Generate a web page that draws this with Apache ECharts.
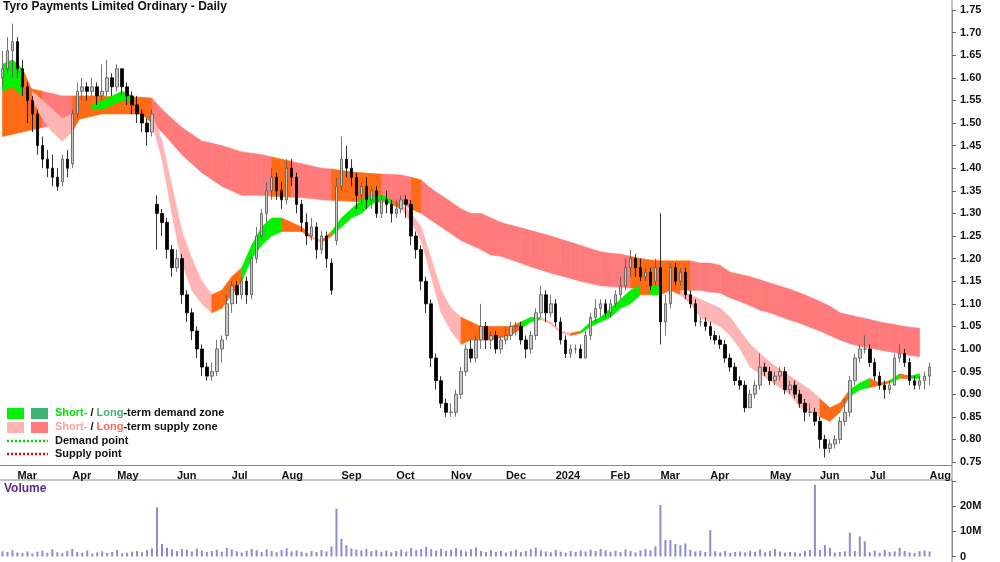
<!DOCTYPE html>
<html><head><meta charset="utf-8">
<script src="https://cdn.jsdelivr.net/npm/echarts@6/dist/echarts.min.js"></script>
<style>html,body{margin:0;padding:0;background:#fff}#c{width:1000px;height:562px}</style>
</head><body><div id="c"></div>
<script>
// ---- DATA ----
// candles: [open, close, low, high]
const candles = [
[1.60,1.62,1.58,1.66],[1.62,1.66,1.61,1.69],[1.66,1.68,1.60,1.72],[1.68,1.62,1.60,1.69],[1.62,1.58,1.56,1.64],
[1.58,1.55,1.50,1.59],[1.55,1.52,1.48,1.56],[1.52,1.45,1.43,1.53],[1.45,1.42,1.40,1.47],[1.42,1.40,1.38,1.44],
[1.40,1.38,1.36,1.43],[1.38,1.36,1.35,1.40],[1.37,1.42,1.36,1.43],[1.42,1.40,1.38,1.44],[1.41,1.52,1.40,1.53],
[1.52,1.57,1.51,1.59],[1.57,1.58,1.55,1.60],[1.58,1.57,1.55,1.59],[1.57,1.58,1.56,1.60],[1.58,1.56,1.54,1.59],
[1.56,1.57,1.55,1.63],[1.57,1.60,1.56,1.64],[1.60,1.58,1.56,1.61],[1.58,1.62,1.57,1.63],[1.62,1.58,1.56,1.62],
[1.58,1.56,1.54,1.59],[1.56,1.54,1.52,1.57],[1.54,1.52,1.50,1.56],[1.52,1.50,1.48,1.53],[1.50,1.48,1.45,1.51],
[1.48,1.52,1.47,1.53],[1.32,1.30,1.22,1.34],[1.30,1.28,1.25,1.31],[1.28,1.22,1.20,1.29],[1.22,1.18,1.16,1.23],
[1.18,1.20,1.17,1.22],[1.20,1.12,1.10,1.21],[1.12,1.08,1.06,1.13],[1.08,1.04,1.02,1.09],[1.04,1.00,0.98,1.05],
[1.00,0.96,0.94,1.01],[0.96,0.94,0.93,0.97],[0.94,0.95,0.93,0.97],[0.95,1.00,0.94,1.02],[1.00,1.02,0.97,1.03],
[1.03,1.10,1.02,1.12],[1.10,1.14,1.08,1.15],[1.14,1.12,1.10,1.15],[1.12,1.15,1.11,1.16],[1.15,1.12,1.10,1.16],
[1.12,1.20,1.11,1.21],[1.20,1.25,1.19,1.27],[1.25,1.30,1.24,1.31],[1.30,1.35,1.28,1.37],[1.35,1.38,1.33,1.40],
[1.38,1.35,1.33,1.39],[1.35,1.33,1.31,1.37],[1.33,1.40,1.32,1.42],[1.40,1.38,1.36,1.42],[1.38,1.32,1.30,1.39],
[1.32,1.28,1.26,1.33],[1.28,1.25,1.23,1.30],[1.25,1.27,1.24,1.29],[1.27,1.22,1.20,1.28],[1.22,1.25,1.21,1.26],
[1.25,1.20,1.18,1.26],[1.19,1.13,1.12,1.20],[1.24,1.36,1.23,1.38],[1.36,1.42,1.35,1.47],[1.42,1.40,1.38,1.45],
[1.40,1.38,1.36,1.42],[1.38,1.34,1.31,1.39],[1.34,1.36,1.32,1.37],[1.36,1.33,1.31,1.38],[1.33,1.35,1.31,1.36],
[1.35,1.30,1.29,1.36],[1.30,1.33,1.29,1.34],[1.33,1.32,1.30,1.35],[1.32,1.30,1.28,1.33],[1.30,1.31,1.29,1.33],
[1.31,1.33,1.30,1.34],[1.33,1.32,1.29,1.34],[1.32,1.25,1.23,1.33],[1.25,1.22,1.20,1.26],[1.22,1.15,1.13,1.23],
[1.15,1.10,1.08,1.16],[1.10,0.98,0.96,1.11],[0.98,0.93,0.91,0.99],[0.93,0.88,0.87,0.94],[0.88,0.86,0.85,0.89],
[0.86,0.86,0.85,0.88],[0.86,0.90,0.85,0.91],[0.90,0.95,0.89,0.96],[0.95,1.00,0.94,1.01],[1.00,0.98,0.97,1.02],
[0.98,1.02,0.97,1.03],[1.02,1.05,1.00,1.10],[1.05,1.02,1.00,1.06],[1.02,1.03,1.00,1.04],[1.03,1.00,0.99,1.04],
[1.00,1.02,0.99,1.03],[1.02,1.03,1.01,1.05],[1.03,1.05,1.02,1.06],[1.05,1.05,1.03,1.06],[1.05,1.02,1.01,1.06],
[1.02,1.00,0.98,1.03],[1.00,1.03,0.99,1.04],[1.03,1.08,1.02,1.09],[1.08,1.12,1.07,1.14],[1.12,1.08,1.06,1.13],
[1.08,1.10,1.07,1.12],[1.10,1.06,1.05,1.11],[1.06,1.02,1.01,1.07],[1.02,0.99,0.98,1.03],[0.99,1.00,0.98,1.01],
[1.00,1.00,0.99,1.01],[1.00,0.98,0.98,1.01],[0.98,1.03,0.98,1.04],[1.03,1.07,1.02,1.08],[1.07,1.09,1.06,1.11],
[1.09,1.10,1.07,1.11],[1.10,1.08,1.07,1.11],[1.08,1.10,1.07,1.11],[1.10,1.12,1.09,1.13],[1.12,1.14,1.11,1.16],
[1.14,1.18,1.13,1.20],[1.18,1.20,1.16,1.22],[1.20,1.18,1.16,1.21],[1.18,1.16,1.15,1.20],[1.16,1.17,1.15,1.18],
[1.17,1.14,1.13,1.18],[1.15,1.18,1.14,1.20],[1.18,1.06,1.01,1.30],[1.06,1.10,1.03,1.12],[1.10,1.18,1.09,1.19],
[1.18,1.15,1.14,1.19],[1.15,1.17,1.14,1.18],[1.17,1.12,1.11,1.18],[1.12,1.10,1.09,1.13],[1.10,1.06,1.05,1.11],
[1.06,1.06,1.05,1.07],[1.06,1.05,1.04,1.07],[1.05,1.03,1.02,1.06],[1.03,1.02,1.01,1.04],[1.02,1.01,1.00,1.03],
[1.01,0.98,0.97,1.02],[0.98,0.96,0.95,0.99],[0.96,0.93,0.92,0.97],[0.93,0.92,0.91,0.94],[0.92,0.87,0.86,0.93],
[0.87,0.90,0.87,0.91],[0.90,0.92,0.89,0.93],[0.92,0.96,0.91,0.99],[0.96,0.95,0.94,0.97],[0.95,0.93,0.92,0.96],
[0.93,0.94,0.92,0.95],[0.94,0.95,0.93,0.96],[0.95,0.91,0.90,0.96],[0.91,0.92,0.90,0.93],[0.92,0.90,0.89,0.93],
[0.90,0.88,0.87,0.91],[0.88,0.86,0.84,0.89],[0.86,0.86,0.85,0.88],[0.86,0.84,0.83,0.87],[0.84,0.80,0.78,0.85],
[0.80,0.78,0.76,0.81],[0.78,0.79,0.77,0.80],[0.79,0.80,0.78,0.81],[0.80,0.84,0.79,0.85],[0.84,0.86,0.83,0.89],
[0.86,0.93,0.85,0.94],[0.93,0.98,0.92,0.99],[0.98,1.00,0.97,1.01],[1.00,1.00,0.99,1.03],[1.00,0.97,0.96,1.01],
[0.97,0.94,0.93,0.98],[0.94,0.92,0.91,0.95],[0.92,0.91,0.89,0.93],[0.91,0.92,0.90,0.93],[0.92,0.98,0.92,0.99],
[0.98,0.99,0.97,1.01],[0.99,0.97,0.96,1.00],[0.97,0.93,0.92,0.98],[0.93,0.92,0.91,0.94],[0.92,0.93,0.91,0.94],
[0.93,0.94,0.91,0.95],[0.94,0.96,0.92,0.97]
];
// volume in millions
const volume = [
2.1,1.8,2.5,1.6,1.4,2.0,1.2,1.9,2.3,1.5,2.8,1.7,1.3,2.2,3.0,1.8,1.5,2.4,1.2,1.6,
2.0,1.4,1.8,2.6,1.3,1.5,1.9,2.2,1.7,2.5,3.2,19.5,5.0,3.5,2.8,2.2,3.0,2.6,2.0,3.1,
2.4,1.8,2.2,2.7,1.9,3.4,2.8,2.1,1.6,2.3,3.0,2.5,1.8,2.9,2.2,1.7,2.6,3.3,2.0,2.4,
1.9,1.5,2.2,1.8,2.6,2.0,4.0,19.0,7.0,4.5,3.2,2.8,2.4,3.0,2.1,2.6,1.9,2.3,1.7,2.2,
2.8,2.0,3.4,2.6,3.0,3.8,2.9,2.4,3.1,2.2,2.7,3.3,2.5,2.0,2.9,3.6,2.2,1.8,2.5,1.9,
2.3,1.6,2.1,2.7,1.8,2.2,2.9,3.5,2.4,2.0,1.7,2.6,1.9,1.5,2.2,1.8,2.4,2.0,2.7,2.2,
3.0,2.5,1.9,2.3,1.8,2.8,2.2,1.6,2.4,3.0,2.5,4.0,20.5,6.5,6.5,5.0,4.5,5.2,2.6,2.0,
2.3,1.8,10.5,2.1,1.6,2.2,1.4,1.8,2.0,1.6,2.3,1.9,2.8,1.7,2.2,3.0,2.0,1.5,1.8,1.6,
1.3,2.2,2.6,28.5,2.6,4.6,3.5,1.5,1.8,2.0,9.5,2.2,8.0,6.0,1.7,2.3,1.5,2.6,1.8,2.0,
3.4,2.2,1.6,1.3,2.1,2.4,2.0
];
const categoryCount = 191;
const monthNames = ['Mar','Apr','May','Jun','Jul','Aug','Sep','Oct','Nov','Dec','2024','Feb','Mar','Apr','May','Jun','Jul','Aug'];
const monthIdx   = [3,14,23,35,46,56,68,79,90,101,111,122,132,142,154,164,174,186];
// bands sampled every 2 candles: [hi, lo]
const longHi = [1.58,1.58,1.58,1.575,1.57,1.565,1.56,1.56,1.56,1.56,1.56,1.558,1.557,1.557,1.557,1.555,1.53,1.51,1.49,1.475,1.46,1.455,1.45,1.443,1.436,1.433,1.43,1.425,1.42,1.415,1.41,1.405,1.40,1.398,1.395,1.392,1.39,1.388,1.387,1.386,1.385,1.38,1.374,1.355,1.34,1.325,1.31,1.30,1.30,1.29,1.28,1.274,1.268,1.262,1.256,1.25,1.243,1.236,1.229,1.222,1.215,1.212,1.21,1.205,1.20,1.197,1.195,1.195,1.195,1.195,1.19,1.19,1.185,1.17,1.165,1.16,1.153,1.146,1.139,1.132,1.124,1.115,1.105,1.095,1.08,1.075,1.07,1.065,1.06,1.056,1.052,1.048,1.046];
const longLo = [1.47,1.475,1.48,1.485,1.49,1.495,1.50,1.505,1.51,1.515,1.52,1.52,1.52,1.52,1.52,1.50,1.48,1.455,1.43,1.41,1.39,1.375,1.36,1.35,1.34,1.34,1.34,1.338,1.337,1.336,1.335,1.333,1.33,1.329,1.328,1.327,1.326,1.325,1.325,1.324,1.323,1.31,1.30,1.285,1.27,1.255,1.24,1.23,1.22,1.208,1.205,1.198,1.19,1.182,1.175,1.168,1.162,1.156,1.15,1.145,1.14,1.138,1.137,1.135,1.133,1.132,1.131,1.13,1.13,1.13,1.13,1.126,1.124,1.113,1.105,1.096,1.086,1.08,1.072,1.064,1.057,1.048,1.04,1.03,1.02,1.012,1.006,1.002,0.998,0.994,0.99,0.986,0.983];
const longType = 'OOOORRROOOOOOOORRRRRRRRRRRROORRRROOOOORRRORRRRRRRRRRRRRRRRRRRRROOOOOORRRRRRRRRRRRRRRRRRRRRRRRR';
const shortHi = [1.63,1.64,1.62,1.57,1.55,1.53,1.51,1.52,1.54,1.54,1.55,1.56,1.57,1.56,1.54,1.52,1.46,1.36,1.26,1.20,1.15,1.12,1.13,1.16,1.18,1.23,1.27,1.29,1.29,1.28,1.27,1.25,1.24,1.26,1.29,1.31,1.33,1.34,1.34,1.33,1.32,1.30,1.27,1.20,1.13,1.09,1.07,1.06,1.05,1.05,1.05,1.05,1.06,1.07,1.07,1.06,1.04,1.035,1.04,1.06,1.07,1.09,1.11,1.13,1.14,1.14,1.14,1.14,1.13,1.12,1.11,1.10,1.09,1.07,1.04,1.01,0.99,0.97,0.955,0.94,0.925,0.91,0.89,0.87,0.88,0.91,0.925,0.935,0.925,0.93,0.945,0.94,0.945];
const shortLo = [1.57,1.58,1.56,1.55,1.51,1.48,1.46,1.48,1.52,1.53,1.53,1.54,1.55,1.55,1.52,1.50,1.42,1.30,1.19,1.13,1.10,1.08,1.09,1.12,1.15,1.20,1.23,1.25,1.26,1.26,1.26,1.245,1.235,1.25,1.27,1.29,1.30,1.32,1.33,1.32,1.31,1.28,1.24,1.16,1.08,1.04,1.01,1.02,1.02,1.02,1.025,1.03,1.045,1.06,1.065,1.055,1.035,1.03,1.035,1.05,1.06,1.07,1.09,1.10,1.12,1.12,1.12,1.13,1.12,1.10,1.07,1.06,1.05,1.03,1.00,0.96,0.945,0.93,0.915,0.90,0.87,0.86,0.85,0.84,0.86,0.895,0.91,0.915,0.92,0.925,0.935,0.935,0.935];
const shortType = 'GGOPPPPOOGGGGOOPPPPPPOOOGGGGOOOPOGGGGGGOPPPPPPOOOOOOGGPPPOGGGGGGOGOOPPPPPPPPPPPPPPOOOGGOOGOG';

// ---- CHART ----
const COL = {G:'#00f000', O:'#ff6a14', P:'#ffb4b4', R:'#ff7a7a'};
const cats = [];
for (let i = 0; i < categoryCount; i++) cats.push('');
monthIdx.forEach((ix, k) => cats[ix] = monthNames[k]);
function bandData(hi, lo, types) {
  const d = [];
  for (let k = 0; k < hi.length - 1; k++) {
    const i0 = Math.min(2 * k, candles.length - 1), i1 = Math.min(2 * k + 2, candles.length - 1);
    d.push([i0, hi[k], lo[k], i1, hi[k + 1], lo[k + 1], 'GOPR'.indexOf(types[k])]);
  }
  return d;
}
function renderBand(params, api) {
  const a = api.coord([api.value(0), api.value(1)]);
  const b = api.coord([api.value(0), api.value(2)]);
  const c = api.coord([api.value(3), api.value(4)]);
  const d = api.coord([api.value(3), api.value(5)]);
  const color = COL['GOPR'[api.value(6)]];
  return {type:'polygon', shape:{points:[a, c, d, b]}, style:{fill:color, stroke:color, lineWidth:0.6}};
}
const chart = echarts.init(document.getElementById('c'));
const labelShow = (i) => cats[i] !== '';
chart.setOption({
  animation:false,
  textStyle:{fontFamily:'Liberation Sans, Arial'},
  grid:[{left:0, right:48, top:10, height:452}, {left:0, right:48, top:481, height:80}],
  xAxis:[
    {type:'category', data:cats, gridIndex:0, offset:3, boundaryGap:true,
     axisLine:{lineStyle:{color:'#888'}},
     axisTick:{inside:true, length:4, alignWithLabel:true, interval:labelShow, lineStyle:{color:'#666'}},
     axisLabel:{interval:labelShow, align:'left', margin:5, color:'#111', fontSize:11, fontWeight:'bold'}},
    {type:'category', data:cats, gridIndex:1, show:false}
  ],
  yAxis:[
    {type:'value', gridIndex:0, position:'right', min:0.75, max:1.75, interval:0.05, splitLine:{show:false},
     axisLine:{show:true, lineStyle:{color:'#888'}}, axisTick:{show:true, length:4, lineStyle:{color:'#666'}},
     axisLabel:{formatter:v => v.toFixed(2), color:'#111', fontSize:11, fontWeight:'bold', margin:8}},
    {type:'value', gridIndex:1, position:'right', min:0, max:30, interval:10, splitLine:{show:false},
     axisLine:{show:true, lineStyle:{color:'#888'}}, axisTick:{show:true, length:4, lineStyle:{color:'#666'}},
     axisLabel:{formatter:v => v === 0 ? '0' : (v >= 30 ? '' : v + 'M'), color:'#111', fontSize:11, fontWeight:'bold', margin:8}}
  ],
  series:[
    {type:'custom', xAxisIndex:0, yAxisIndex:0, renderItem:renderBand, data:bandData(longHi, longLo, longType),
     encode:{x:[0,3], y:[1,2,4,5]}, z:1, silent:true},
    {type:'custom', xAxisIndex:0, yAxisIndex:0, renderItem:renderBand, data:bandData(shortHi, shortLo, shortType),
     encode:{x:[0,3], y:[1,2,4,5]}, z:2, silent:true},
    {type:'candlestick', xAxisIndex:0, yAxisIndex:0, data:candles.map(c => [c[0], c[1], c[2], c[3]]), barWidth:3, z:5,
     itemStyle:{color:'#c8c8c8', color0:'#000', borderColor:'#555', borderColor0:'#000', borderWidth:0.8}},
    {type:'bar', xAxisIndex:1, yAxisIndex:1, data:volume, barWidth:2, itemStyle:{color:'#8c8cd2'}}
  ],
  graphic:[
    {type:'line', shape:{x1:0, y1:480, x2:952, y2:480}, style:{stroke:'#888', lineWidth:1}},
    {type:'line', shape:{x1:952, y1:0, x2:952, y2:562}, style:{stroke:'#888', lineWidth:1}},
    {type:'text', left:3, top:1, style:{text:'Tyro Payments Limited Ordinary - Daily', fontSize:12, fontWeight:'bold', fill:'#111', fontFamily:'Liberation Sans'}},
    {type:'text', left:4, top:483, style:{text:'Volume', fontSize:12, fontWeight:'bold', fill:'#5b2a86', fontFamily:'Liberation Sans'}},
    {type:'rect', shape:{x:7, y:408, width:17, height:11}, style:{fill:'#00f000'}},
    {type:'rect', shape:{x:31, y:408, width:17, height:11}, style:{fill:'#3cb371'}},
    {type:'rect', shape:{x:7, y:422, width:17, height:11}, style:{fill:'#ffb4b4'}},
    {type:'rect', shape:{x:31, y:422, width:17, height:11}, style:{fill:'#ff7a7a'}},
    {type:'line', shape:{x1:7, y1:441, x2:48, y2:441}, style:{stroke:'#00e000', lineWidth:2.5, lineDash:[2,2]}},
    {type:'line', shape:{x1:7, y1:454, x2:48, y2:454}, style:{stroke:'#ff0000', lineWidth:2.5, lineDash:[2,2]}},
    {type:'text', left:55, top:407, style:{text:'{g|Short-}{k| / }{d|Long}{k|-term demand zone}', fontSize:11, fontWeight:'bold', fontFamily:'Liberation Sans',
      rich:{g:{fill:'#00e000', fontWeight:'bold', fontSize:11}, d:{fill:'#3cb371', fontWeight:'bold', fontSize:11}, k:{fill:'#111', fontWeight:'bold', fontSize:11}}}},
    {type:'text', left:55, top:421, style:{text:'{p|Short-}{k| / }{r|Long}{k|-term supply zone}', fontSize:11, fontWeight:'bold', fontFamily:'Liberation Sans',
      rich:{p:{fill:'#ffa0a0', fontWeight:'bold', fontSize:11}, r:{fill:'#ff6666', fontWeight:'bold', fontSize:11}, k:{fill:'#111', fontWeight:'bold', fontSize:11}}}},
    {type:'text', left:55, top:435, style:{text:'Demand point', fontSize:11, fontWeight:'bold', fill:'#111', fontFamily:'Liberation Sans'}},
    {type:'text', left:55, top:448, style:{text:'Supply point', fontSize:11, fontWeight:'bold', fill:'#111', fontFamily:'Liberation Sans'}}
  ]
});
</script></body></html>
